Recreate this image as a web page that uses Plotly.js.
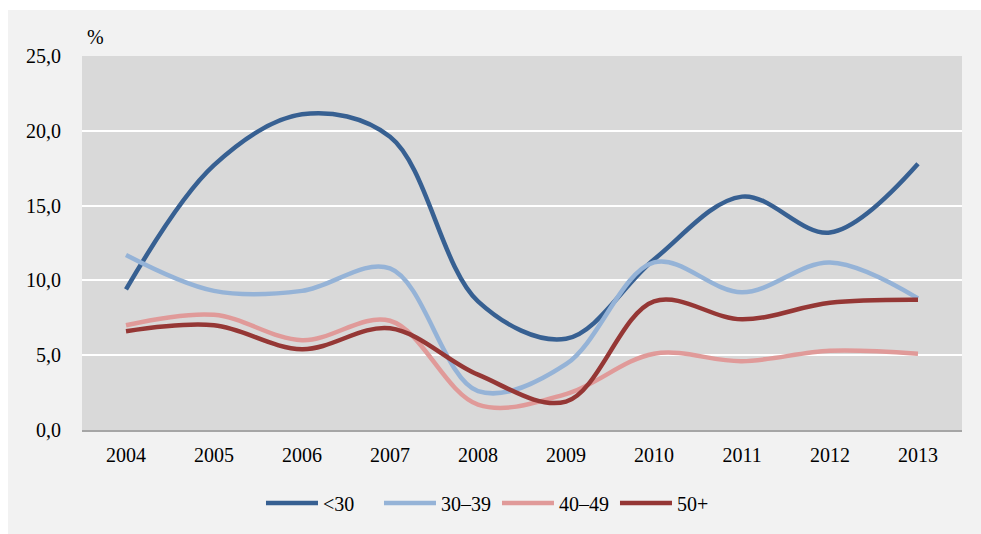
<!DOCTYPE html>
<html>
<head>
<meta charset="utf-8">
<script src="https://cdn.plot.ly/plotly-3.0.1.min.js"></script>
<style>
html,body{margin:0;padding:0;background:#ffffff;}
#chart{position:absolute;left:8px;top:10px;width:973px;height:524px;}
</style>
</head>
<body>
<div id="chart"></div>
<script>
const years = ['2004','2005','2006','2007','2008','2009','2010','2011','2012','2013'];
const under30 = [9.4, 17.7, 21.1, 19.6, 8.6, 6.1, 11.4, 15.6, 13.2, 17.8];
const age30_39 = [11.7, 9.3, 9.3, 10.8, 2.6, 4.4, 11.2, 9.2, 11.2, 8.8];
const age40_49 = [7.0, 7.7, 6.0, 7.3, 1.7, 2.4, 5.1, 4.6, 5.3, 5.1];
const age50p = [6.6, 7.0, 5.4, 6.8, 3.7, 1.9, 8.6, 7.4, 8.5, 8.7];
const seriesNames = ['<30', '30–39', '40–49', '50+'];
const colors = ['#376092', '#95b3d7', '#e09a99', '#953735'];

const data = [under30, age30_39, age40_49, age50p].map((vals, i) => ({
  x: years, y: vals, name: seriesNames[i], type: 'scatter', mode: 'lines',
  line: {color: colors[i], width: 4.5, shape: 'spline', smoothing: 1},
  hoverinfo: 'skip'
}));

const layout = {
  width: 973, height: 524,
  paper_bgcolor: '#f2f2f2', plot_bgcolor: '#d9d9d9',
  margin: {l: 74, r: 19, t: 46, b: 104},
  separators: ', ',
  font: {family: '"Liberation Serif", "Times New Roman", serif', size: 20, color: '#000000'},
  showlegend: true,
  legend: {orientation: 'h', x: 0.2034, xanchor: 'left', y: -0.195, yanchor: 'middle',
           bgcolor: 'rgba(0,0,0,0)', font: {size: 20}, itemwidth: 52, traceorder: 'normal',
           entrywidth: 51, entrywidthmode: 'pixels'},
  xaxis: {type: 'category', range: [-0.5, 9.5], showgrid: false, zeroline: false,
          showline: true, linecolor: '#a6a6a6', linewidth: 1.5,
          ticks: 'outside', ticklen: 6, tickcolor: 'rgba(0,0,0,0)', fixedrange: true},
  yaxis: {range: [0, 25], dtick: 5, tick0: 0, tickformat: '.1f', showgrid: true,
          gridcolor: '#ffffff', gridwidth: 2, zeroline: false, showline: false,
          ticks: 'outside', ticklen: 16, tickcolor: 'rgba(0,0,0,0)', fixedrange: true},
  annotations: [{text: '%', xref: 'paper', yref: 'paper', x: 0.003, y: 1.0,
                 xanchor: 'left', yanchor: 'bottom', yshift: 6, showarrow: false,
                 font: {size: 20}}]
};

Plotly.newPlot('chart', data, layout, {displayModeBar: false, staticPlot: true});
</script>
</body>
</html>
